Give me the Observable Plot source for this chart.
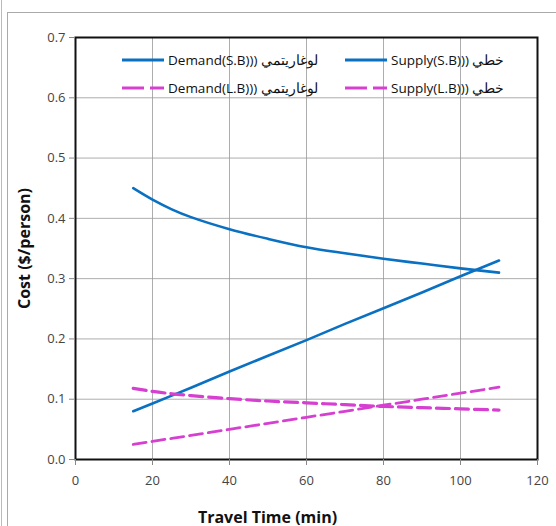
<!DOCTYPE html>
<html><head><meta charset="utf-8">
<script src="https://cdn.jsdelivr.net/npm/d3@7"></script>
<script src="https://cdn.jsdelivr.net/npm/@observablehq/plot@0.6"></script>
<style>
body{margin:0;background:#fff;}
#wrap{position:relative;width:556px;height:526px;overflow:hidden;font-family:"Liberation Sans Narrow","Open Sans",sans-serif;}
#b1{position:absolute;left:1px;top:0;width:0;height:526px;border-left:1px solid #bbb;}
#b2{position:absolute;left:7px;top:12px;right:0;bottom:0;border-left:1px solid #aaa;border-top:1px solid #aaa;}
.leg{position:absolute;display:flex;align-items:center;font-size:13.5px;color:#111;white-space:nowrap;}
.leg svg{margin-right:4px;}
</style></head>
<body><div id="wrap"><div id="b1"></div><div id="b2"></div></div>
<script>
const times = [15,20,25,30,40,50,60,70,80,90,100,110];
const demandSB = [0.45,0.431,0.415,0.402,0.382,0.366,0.352,0.342,0.333,0.325,0.317,0.31];
const supplySB = [0.08,0.093,0.106,0.119,0.146,0.172,0.198,0.225,0.251,0.277,0.304,0.33];
const demandLB = [0.118,0.113,0.109,0.106,0.101,0.097,0.094,0.091,0.088,0.086,0.084,0.082];
const supplyLB = [0.025,0.030,0.035,0.040,0.050,0.060,0.070,0.080,0.090,0.100,0.110,0.120];
const xTicks = [0,20,40,60,80,100,120];
const yTicks = [0,0.1,0.2,0.3,0.4,0.5,0.6,0.7];
const seriesNames = ["Demand(S.B))) لوغاريتمي","Supply(S.B))) خطي","Demand(L.B))) لوغاريتمي","Supply(L.B))) خطي"];

const blue = "#0a70c2", mag = "#d640d0";
const mk = (arr) => times.map((t,i)=>({t, v:arr[i]}));

const chart = Plot.plot({
  width:556, height:526,
  marginLeft:75, marginRight:19, marginTop:37, marginBottom:67,
  style:{fontFamily:"'Liberation Sans Narrow','Open Sans',sans-serif", fontSize:"13px", color:"#444", background:"transparent"},
  x:{domain:[0,120], ticks:xTicks, tickSize:6, tickPadding:10, label:null},
  y:{domain:[0,0.7], ticks:yTicks, tickFormat:d3.format(".1f"), tickSize:6, tickPadding:4, label:null},
  marks:[
    Plot.gridX(xTicks,{stroke:"#999", strokeOpacity:0.8}),
    Plot.gridY(yTicks,{stroke:"#999", strokeOpacity:0.8}),
    Plot.line(mk(demandSB),{x:"t",y:"v",stroke:blue,strokeWidth:2.6,curve:"catmull-rom"}),
    Plot.line(mk(supplySB),{x:"t",y:"v",stroke:blue,strokeWidth:2.6}),
    Plot.line(mk(demandLB),{x:"t",y:"v",stroke:mag,strokeWidth:3.2,strokeDasharray:"13,6",curve:"catmull-rom"}),
    Plot.line(mk(supplyLB),{x:"t",y:"v",stroke:mag,strokeWidth:2.8,strokeDasharray:"13,6"}),
    Plot.frame({stroke:"#111", strokeWidth:2}),
    Plot.axisX({ticks:xTicks, tickSize:6, tickPadding:10, stroke:"#888"}),
    Plot.axisY({ticks:yTicks, tickFormat:d3.format(".1f"), tickSize:6, tickPadding:4, stroke:"#888"}),
    Plot.text(["Travel Time (min)"],{frameAnchor:"bottom", dy:63, dx:-39, fontWeight:"bold", fontSize:16, fill:"#111", fontFamily:"'Open Sans',sans-serif"}),
    Plot.text(["Cost ($/person)"],{frameAnchor:"left", dx:-51, rotate:-90, textAnchor:"middle", fontWeight:"bold", fontSize:16, fill:"#111", fontFamily:"'Open Sans',sans-serif"})
  ]
});
chart.style.position="absolute"; chart.style.left="0"; chart.style.top="0";
const wrap = document.getElementById("wrap");
wrap.appendChild(chart);

const legItems = [
  {name:seriesNames[0], color:blue, dash:null, left:122, top:51},
  {name:seriesNames[1], color:blue, dash:null, left:345, top:51},
  {name:seriesNames[2], color:mag, dash:"22,6", left:122, top:79},
  {name:seriesNames[3], color:mag, dash:"22,6", left:345, top:79}
];
legItems.forEach(it=>{
  const d = document.createElement("div");
  d.className="leg"; d.style.left=it.left+"px"; d.style.top=it.top+"px"; d.style.height="18px";
  d.innerHTML = `<svg width="42" height="8"><line x1="0" y1="4" x2="42" y2="4" stroke="${it.color}" stroke-width="3" ${it.dash?`stroke-dasharray="${it.dash}"`:""}/></svg><span dir="ltr">${it.name}</span>`;
  wrap.appendChild(d);
});
</script></body></html>
